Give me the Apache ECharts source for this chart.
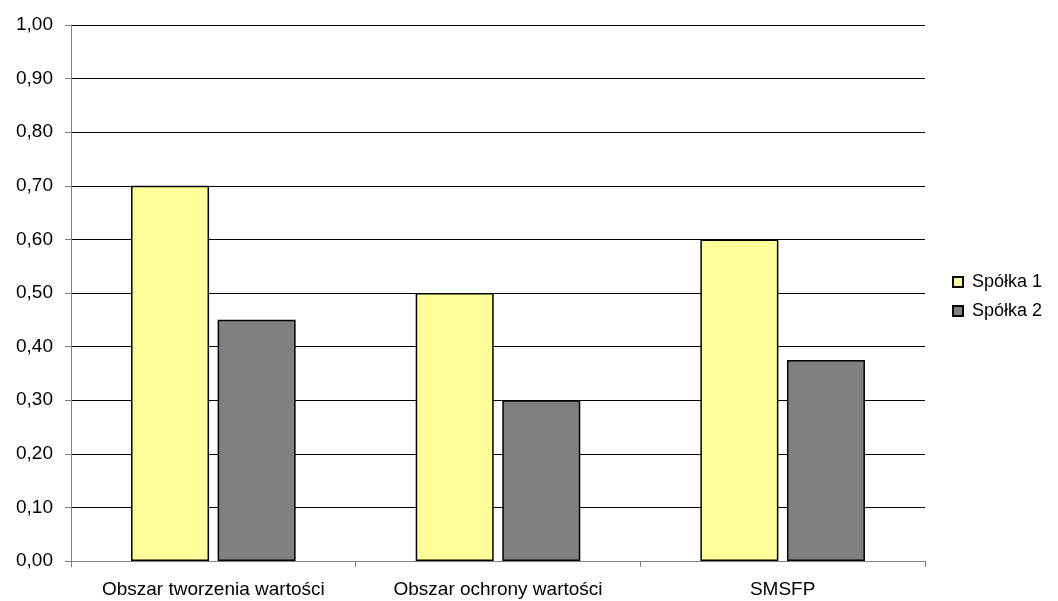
<!DOCTYPE html>
<html>
<head>
<meta charset="utf-8">
<script src="https://cdn.jsdelivr.net/npm/echarts@6/dist/echarts.min.js"></script>
<style>
  html, body { margin: 0; padding: 0; background: #fff; }
  #chart { width: 1058px; height: 601px; }
</style>
</head>
<body>
<div id="chart"></div>
<script>
const categories = ['Obszar tworzenia wartości', 'Obszar ochrony wartości', 'SMSFP'];
const seriesNames = ['Spółka 1', 'Spółka 2'];
const spolka1 = [0.70, 0.50, 0.60];
const spolka2 = [0.45, 0.30, 0.375];

const font = '"Liberation Sans", Arial, sans-serif';
const chart = echarts.init(document.getElementById('chart'));

chart.setOption({
  animation: false,
  backgroundColor: '#ffffff',
  grid: { left: 71, right: 133, top: 25, bottom: 40 },
  legend: {
    orient: 'vertical',
    left: 947,
    top: 268,
    padding: 5,
    itemWidth: 10,
    itemHeight: 10,
    itemGap: 11,
    icon: 'rect',
    textStyle: { fontFamily: font, fontSize: 18, color: '#000', padding: [0, 0, 0, 4] },
    data: seriesNames
  },
  xAxis: {
    type: 'category',
    data: categories,
    axisLine: { lineStyle: { color: '#808080', width: 1 } },
    axisTick: { show: true, length: 6, lineStyle: { color: '#808080' } },
    axisLabel: {
      fontFamily: font, fontSize: 19, color: '#000', margin: 19,
      interval: 0, hideOverlap: false
    }
  },
  yAxis: {
    type: 'value',
    min: 0,
    max: 1,
    interval: 0.1,
    axisLine: { show: true, lineStyle: { color: '#808080', width: 1 } },
    axisTick: { show: true, length: 6, lineStyle: { color: '#808080' } },
    axisLabel: {
      fontFamily: font, fontSize: 19, color: '#000', margin: 18,
      formatter: v => v.toFixed(2).replace('.', ',')
    },
    splitLine: { lineStyle: { color: '#000', width: 1 } }
  },
  series: [
    {
      name: seriesNames[0],
      type: 'bar',
      data: spolka1,
      barWidth: 78,
      barGap: '11%',
      itemStyle: { color: '#FFFF99', borderColor: '#000', borderWidth: 1.5 }
    },
    {
      name: seriesNames[1],
      type: 'bar',
      data: spolka2,
      barWidth: 78,
      barGap: '11%',
      itemStyle: { color: '#808080', borderColor: '#000', borderWidth: 1.5 }
    }
  ]
});
</script>
</body>
</html>
